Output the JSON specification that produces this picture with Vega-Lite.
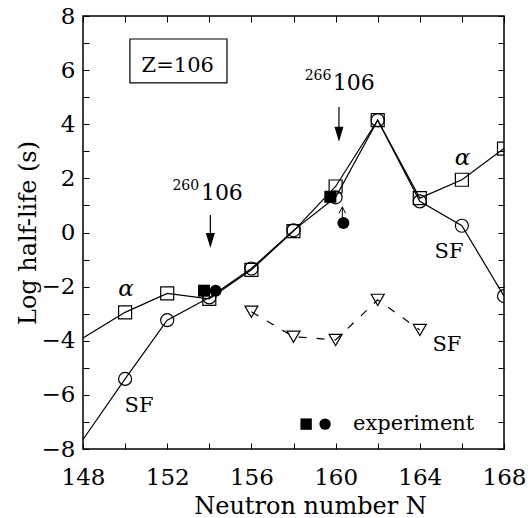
{
  "$schema": "https://vega.github.io/schema/vega-lite/v6.json",
  "width": 421,
  "height": 433,
  "autosize": {"type": "none"},
  "padding": {"left": 83, "top": 16, "right": 24, "bottom": 69},
  "background": "white",
  "config": {
    "view": {"stroke": "black", "strokeWidth": 1.5},
    "font": "DejaVu Serif",
    "axis": {
      "grid": false,
      "domainColor": "black",
      "domainWidth": 1.5,
      "tickColor": "black",
      "tickWidth": 1,
      "labelColor": "black",
      "titleColor": "black",
      "labelFont": "DejaVu Serif",
      "titleFont": "DejaVu Serif",
      "labelFontSize": 23,
      "titleFontSize": 24,
      "titleFontWeight": "normal",
      "labelOverlap": false,
      "labelFlush": false,
      "labelBound": false
    },
    "text": {"font": "DejaVu Serif", "color": "black"}
  },
  "datasets": {
    "calc": [
      {"series": "alpha", "N": 148, "value": -3.9, "marker": false},
      {"series": "alpha", "N": 150, "value": -2.95, "marker": true},
      {"series": "alpha", "N": 152, "value": -2.25, "marker": true},
      {"series": "alpha", "N": 154, "value": -2.45, "marker": true},
      {"series": "alpha", "N": 156, "value": -1.38, "marker": true},
      {"series": "alpha", "N": 158, "value": 0.05, "marker": true},
      {"series": "alpha", "N": 160, "value": 1.7, "marker": true},
      {"series": "alpha", "N": 162, "value": 4.15, "marker": true},
      {"series": "alpha", "N": 164, "value": 1.27, "marker": true},
      {"series": "alpha", "N": 166, "value": 1.95, "marker": true},
      {"series": "alpha", "N": 168, "value": 3.1, "marker": true},
      {"series": "SF", "N": 148, "value": -7.65, "marker": false},
      {"series": "SF", "N": 150, "value": -5.41, "marker": true},
      {"series": "SF", "N": 152, "value": -3.24, "marker": true},
      {"series": "SF", "N": 154, "value": -2.4, "marker": true},
      {"series": "SF", "N": 156, "value": -1.33, "marker": true},
      {"series": "SF", "N": 158, "value": 0.08, "marker": true},
      {"series": "SF", "N": 160, "value": 1.3, "marker": true},
      {"series": "SF", "N": 162, "value": 4.15, "marker": true},
      {"series": "SF", "N": 164, "value": 1.15, "marker": true},
      {"series": "SF", "N": 166, "value": 0.25, "marker": true},
      {"series": "SF", "N": 168, "value": -2.35, "marker": true},
      {"series": "SF2", "N": 156, "value": -2.93, "marker": true},
      {"series": "SF2", "N": 158, "value": -3.85, "marker": true},
      {"series": "SF2", "N": 160, "value": -3.97, "marker": true},
      {"series": "SF2", "N": 162, "value": -2.49, "marker": true},
      {"series": "SF2", "N": 164, "value": -3.6, "marker": true}
    ],
    "exp": [
      {"kind": "square", "N": 153.75, "value": -2.15},
      {"kind": "circle", "N": 154.3, "value": -2.15},
      {"kind": "square", "N": 159.75, "value": 1.32},
      {"kind": "circle", "N": 160.37, "value": 0.35}
    ],
    "key": [
      {"kind": "square", "N": 158.6, "value": -7.08},
      {"kind": "circle", "N": 159.5, "value": -7.08}
    ],
    "labels": [
      {"kind": "alpha", "text": "α", "N": 150.04, "value": -2.35},
      {"kind": "alpha", "text": "α", "N": 166.03, "value": 2.49},
      {"kind": "SF", "text": "SF", "N": 150.66, "value": -6.63},
      {"kind": "SF", "text": "SF", "N": 165.39, "value": -0.94},
      {"kind": "SF", "text": "SF", "N": 165.29, "value": -4.38},
      {"kind": "Z", "text": "Z=106", "N": 152.5, "value": 5.94},
      {"kind": "nuclide", "text": "106", "N": 153.6, "value": 1.2},
      {"kind": "nuclide", "text": "106", "N": 159.87, "value": 5.27},
      {"kind": "mass", "text": "260", "N": 153.52, "value": 1.57},
      {"kind": "mass", "text": "266", "N": 159.8, "value": 5.64},
      {"kind": "legend", "text": "experiment", "N": 160.83, "value": -7.3}
    ],
    "box": [
      {"N1": 150.23, "N2": 154.84, "v1": 5.53, "v2": 7.15}
    ],
    "arrows": [
      {"N": 154.05, "top": 0.65, "bottom": -0.15, "head": -0.3},
      {"N": 160.16, "top": 4.64, "bottom": 3.75, "head": 3.63}
    ],
    "uparrow": [
      {"N": 160.32, "top": 0.92, "bottom": 0.57, "head": 0.83}
    ]
  },
  "layer": [
    {
      "data": {"name": "calc"},
      "transform": [{"filter": "datum.series !== 'SF2'"}],
      "mark": {"type": "line", "color": "black", "strokeWidth": 1.2, "clip": true},
      "encoding": {
        "x": {"field": "N", "type": "quantitative", "scale": {"domain": [148, 168], "nice": false, "zero": false},
          "axis": {"orient": "bottom", "values": [148, 150, 152, 154, 156, 158, 160, 162, 164, 166, 168],
            "labelExpr": "datum.value % 4 === 0 ? datum.label : ''", "tickSize": -6, "labelPadding": 23,
            "labelBaseline": "top", "domain": false, "title": "Neutron number N",
            "titleX": 227, "titleY": 64, "titleBaseline": "alphabetic", "titleAnchor": "middle"}},
        "y": {"field": "value", "type": "quantitative", "scale": {"domain": [-8, 8], "nice": false, "zero": false},
          "axis": {"orient": "left", "values": [-8, -7, -6, -5, -4, -3, -2, -1, 0, 1, 2, 3, 4, 5, 6, 7, 8],
            "labelExpr": "datum.value % 2 === 0 ? datum.label : ''", "tickSize": -6, "labelPadding": 14,
            "domain": false, "title": "Log half-life (s)",
            "titleX": -48, "titleY": 216.5, "titleBaseline": "alphabetic", "titleAngle": -90, "titleAnchor": "middle"}},
        "detail": {"field": "series"}
      }
    },
    {
      "data": {"name": "calc"},
      "transform": [{"filter": "datum.series === 'SF2'"}],
      "mark": {"type": "line", "color": "black", "strokeWidth": 1.2, "strokeDash": [8, 10], "clip": true},
      "encoding": {
        "x": {"field": "N", "type": "quantitative",
          "axis": {"orient": "top", "values": [148, 150, 152, 154, 156, 158, 160, 162, 164, 166, 168],
            "labels": false, "tickSize": -6, "domain": false, "title": null}},
        "y": {"field": "value", "type": "quantitative",
          "axis": {"orient": "right", "values": [-8, -7, -6, -5, -4, -3, -2, -1, 0, 1, 2, 3, 4, 5, 6, 7, 8],
            "labels": false, "tickSize": -6, "domain": false, "title": null}}
      }
    },
    {
      "data": {"name": "calc"},
      "transform": [{"filter": "datum.marker"}],
      "mark": {"type": "point", "filled": false, "color": "black", "strokeWidth": 1.2, "opacity": 1, "clip": true},
      "encoding": {
        "x": {"field": "N", "type": "quantitative", "axis": null},
        "y": {"field": "value", "type": "quantitative", "axis": null},
        "shape": {"field": "series", "type": "nominal", "legend": null,
          "scale": {"domain": ["alpha", "SF", "SF2"], "range": ["square", "circle", "triangle-down"]}},
        "size": {"field": "series", "type": "nominal", "legend": null,
          "scale": {"domain": ["alpha", "SF", "SF2"], "range": [169, 169, 110]}}
      }
    },
    {
      "data": {"name": "exp"},
      "mark": {"type": "point", "filled": true, "color": "black", "opacity": 1, "size": 144},
      "encoding": {
        "x": {"field": "N", "type": "quantitative", "axis": null},
        "y": {"field": "value", "type": "quantitative", "axis": null},
        "shape": {"field": "kind", "type": "nominal", "legend": null,
          "scale": {"domain": ["square", "circle"], "range": ["square", "circle"]}}
      }
    },
    {
      "data": {"name": "key"},
      "mark": {"type": "point", "filled": true, "color": "black", "opacity": 1, "size": 130},
      "encoding": {
        "x": {"field": "N", "type": "quantitative", "axis": null},
        "y": {"field": "value", "type": "quantitative", "axis": null},
        "shape": {"field": "kind", "type": "nominal", "legend": null,
          "scale": {"domain": ["square", "circle"], "range": ["square", "circle"]}}
      }
    },
    {
      "data": {"name": "box"},
      "mark": {"type": "rect", "fill": null, "stroke": "black", "strokeWidth": 1.2},
      "encoding": {
        "x": {"field": "N1", "type": "quantitative", "axis": null},
        "x2": {"field": "N2"},
        "y": {"field": "v1", "type": "quantitative", "axis": null},
        "y2": {"field": "v2"}
      }
    },
    {
      "data": {"name": "arrows"},
      "mark": {"type": "rule", "color": "black", "strokeWidth": 1.2},
      "encoding": {
        "x": {"field": "N", "type": "quantitative", "axis": null},
        "y": {"field": "top", "type": "quantitative", "axis": null},
        "y2": {"field": "bottom"}
      }
    },
    {
      "data": {"name": "arrows"},
      "mark": {"type": "point", "filled": true, "color": "black", "opacity": 1, "size": 225,
        "shape": "M-0.6,-1L0.6,-1L0,1Z"},
      "encoding": {
        "x": {"field": "N", "type": "quantitative", "axis": null},
        "y": {"field": "head", "type": "quantitative", "axis": null}
      }
    },
    {
      "data": {"name": "uparrow"},
      "mark": {"type": "rule", "color": "black", "strokeWidth": 1},
      "encoding": {
        "x": {"field": "N", "type": "quantitative", "axis": null},
        "y": {"field": "top", "type": "quantitative", "axis": null},
        "y2": {"field": "bottom"}
      }
    },
    {
      "data": {"name": "uparrow"},
      "mark": {"type": "point", "filled": false, "color": "black", "opacity": 1, "size": 42, "strokeWidth": 1,
        "shape": "M-1,1L0,-1L1,1"},
      "encoding": {
        "x": {"field": "N", "type": "quantitative", "axis": null},
        "y": {"field": "head", "type": "quantitative", "axis": null}
      }
    },
    {
      "data": {"name": "labels"},
      "transform": [{"filter": "datum.kind === 'alpha'"}],
      "mark": {"type": "text", "fontSize": 23, "fontStyle": "italic", "align": "center", "baseline": "alphabetic"},
      "encoding": {
        "x": {"field": "N", "type": "quantitative", "axis": null},
        "y": {"field": "value", "type": "quantitative", "axis": null},
        "text": {"field": "text"}
      }
    },
    {
      "data": {"name": "labels"},
      "transform": [{"filter": "datum.kind === 'SF' || datum.kind === 'Z'"}],
      "mark": {"type": "text", "fontSize": 21, "align": "center", "baseline": "alphabetic"},
      "encoding": {
        "x": {"field": "N", "type": "quantitative", "axis": null},
        "y": {"field": "value", "type": "quantitative", "axis": null},
        "text": {"field": "text"}
      }
    },
    {
      "data": {"name": "labels"},
      "transform": [{"filter": "datum.kind === 'nuclide'"}],
      "mark": {"type": "text", "fontSize": 22, "align": "left", "baseline": "alphabetic"},
      "encoding": {
        "x": {"field": "N", "type": "quantitative", "axis": null},
        "y": {"field": "value", "type": "quantitative", "axis": null},
        "text": {"field": "text"}
      }
    },
    {
      "data": {"name": "labels"},
      "transform": [{"filter": "datum.kind === 'mass'"}],
      "mark": {"type": "text", "fontSize": 14, "align": "right", "baseline": "alphabetic"},
      "encoding": {
        "x": {"field": "N", "type": "quantitative", "axis": null},
        "y": {"field": "value", "type": "quantitative", "axis": null},
        "text": {"field": "text"}
      }
    },
    {
      "data": {"name": "labels"},
      "transform": [{"filter": "datum.kind === 'legend'"}],
      "mark": {"type": "text", "fontSize": 21, "align": "left", "baseline": "alphabetic"},
      "encoding": {
        "x": {"field": "N", "type": "quantitative", "axis": null},
        "y": {"field": "value", "type": "quantitative", "axis": null},
        "text": {"field": "text"}
      }
    }
  ],
  "resolve": {"axis": {"x": "independent", "y": "independent"}}
}
